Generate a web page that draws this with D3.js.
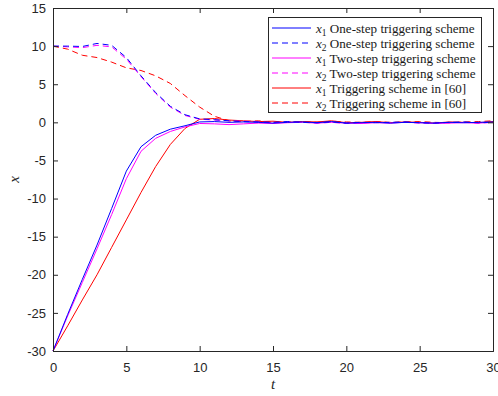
<!DOCTYPE html>
<html><head><meta charset="utf-8">
<script src="https://cdn.jsdelivr.net/npm/d3@7"></script>
<style>body{margin:0;background:#fff}svg{display:block}</style>
</head><body><svg id="c" width="498" height="396"></svg>
<script>
const t = d3.range(0, 31);
const x1One = [-30,-25.2,-20.6,-16.1,-11.3,-6.4,-3.2,-1.7,-0.9,-0.45,0.05,0.1,0.0,0.05,0.0,-0.1,0.0,0.05,-0.05,0.1,-0.1,-0.05,0.0,-0.1,0.0,-0.05,-0.1,0.0,-0.05,0.0,0.05];
const x2One = [10,10.0,9.95,10.35,10.1,8.5,6.1,3.9,2.1,1.0,0.45,0.35,0.2,0.1,0.05,0.0,0.1,0.0,-0.05,0.05,-0.1,0.0,-0.05,0.0,0.05,-0.05,-0.1,0.0,0.05,-0.05,0.0];
const x1Two = [-30,-25.4,-21.0,-16.6,-12.1,-7.4,-3.8,-2.1,-1.2,-0.6,-0.15,-0.2,-0.3,-0.2,-0.1,-0.15,-0.05,0.0,-0.1,0.0,-0.1,-0.15,-0.05,-0.1,0.0,-0.05,-0.15,-0.1,-0.05,-0.1,0.0];
const x2Two = [10,9.9,9.8,10.1,9.9,8.3,6.0,3.8,2.0,0.9,0.4,0.3,0.2,0.15,0.05,-0.05,0.05,0.0,-0.1,0.0,-0.15,-0.1,0.0,-0.05,0.0,-0.1,-0.1,-0.05,0.0,-0.1,0.0];
const x1Ref = [-30,-26.7,-23.3,-20.0,-16.4,-12.8,-9.2,-5.8,-2.9,-0.8,0.4,0.5,0.3,0.2,0.1,0.15,0.0,0.1,0.05,0.2,-0.05,0.0,0.1,-0.05,0.05,0.0,-0.1,0.05,0.0,-0.05,0.1];
const x2Ref = [10,9.6,8.8,8.5,7.9,7.15,6.8,6.1,5.1,3.5,2.0,0.8,0.2,0.1,0.2,0.0,0.05,0.1,0.0,0.15,0.05,0.0,0.1,0.0,0.05,0.1,0.0,-0.05,0.05,0.1,0.2];
const xTicks = [0,5,10,15,20,25,30];
const yTicks = [-30,-25,-20,-15,-10,-5,0,5,10,15];
const seriesNames = ["One-step triggering scheme","One-step triggering scheme","Two-step triggering scheme","Two-step triggering scheme","Triggering scheme in [60]","Triggering scheme in [60]"];
const seriesSub = ["1","2","1","2","1","2"];
const seriesData = [x1One, x2One, x1Two, x2Two, x1Ref, x2Ref];
const seriesColor = ["#0000ff","#0000ff","#ff00ff","#ff00ff","#ff0000","#ff0000"];
const seriesDash = [null,"6,4",null,"6,4",null,"6,4"];

const svg = d3.select("#c");
const L=53, R=493, T=8, B=351;
const xs = d3.scaleLinear().domain([0,30]).range([L,R]);
const ys = d3.scaleLinear().domain([-30,15]).range([B,T]);
const axCol = "#262626";

const line = d3.line().x((d,i)=>xs(t[i])).y(d=>ys(d));
const g = svg.append("g");
const order = [4,5,2,3,0,1];
order.forEach(k=>{
  g.append("path").attr("d", line(seriesData[k])).attr("fill","none")
   .attr("stroke", seriesColor[k]).attr("stroke-width",1)
   .attr("stroke-dasharray", seriesDash[k]);
});

const fmt = d=>String(d);
const axB = svg.append("g").attr("transform",`translate(0,${B})`).call(d3.axisBottom(xs).tickValues(xTicks).tickSize(-5).tickPadding(12).tickFormat(fmt));
const axT = svg.append("g").attr("transform",`translate(0,${T})`).call(d3.axisTop(xs).tickValues(xTicks).tickSize(-5).tickFormat(""));
const axL = svg.append("g").attr("transform",`translate(${L},0)`).call(d3.axisLeft(ys).tickValues(yTicks).tickSize(-5).tickPadding(7).tickFormat(fmt));
const axR = svg.append("g").attr("transform",`translate(${R},0)`).call(d3.axisRight(ys).tickValues(yTicks).tickSize(-5).tickFormat(""));
[axB,axT,axL,axR].forEach(a=>{
  a.selectAll("path").attr("stroke",axCol).attr("stroke-width",1);
  a.selectAll("line").attr("stroke",axCol);
  a.selectAll("text").attr("fill",axCol).style("font-family","'Liberation Sans', Arial, sans-serif").style("font-size","13px");
});

svg.append("text").attr("x", (L+R)/2).attr("y", 389).attr("text-anchor","middle")
  .style("font-family","'Liberation Serif', serif").style("font-style","italic").style("font-size","15px").attr("fill",axCol).text("t");
svg.append("text").attr("transform",`translate(19,${(T+B)/2}) rotate(-90)`).attr("text-anchor","middle")
  .style("font-family","'Liberation Serif', serif").style("font-style","italic").style("font-size","15px").attr("fill",axCol).text("x");

const lg = svg.append("g");
lg.append("rect").attr("x",268.5).attr("y",17.5).attr("width",213).attr("height",95)
  .attr("fill","#fff").attr("stroke",axCol).attr("stroke-width",1);
seriesNames.forEach((nm,i)=>{
  const yy = 28 + i*15;
  lg.append("line").attr("x1",272).attr("x2",311).attr("y1",yy).attr("y2",yy)
    .attr("stroke",seriesColor[i]).attr("stroke-width",1).attr("stroke-dasharray",seriesDash[i]);
  const tx = lg.append("text").attr("x",316).attr("y",yy+4.5)
    .style("font-family","'Liberation Serif', serif").style("font-size","13.1px").attr("fill","#1a1a1a");
  tx.append("tspan").style("font-style","italic").text("x");
  tx.append("tspan").attr("dy",3).style("font-size","9.5px").text(seriesSub[i]);
  tx.append("tspan").attr("dy",-3).text(" " + nm);
});
</script></body></html>
